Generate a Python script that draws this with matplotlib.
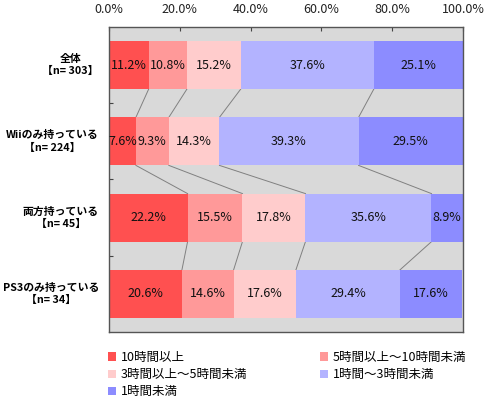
import numpy as np
import matplotlib
matplotlib.use("Agg")
import matplotlib.pyplot as plt
from matplotlib.patches import Patch

plt.rcParams['font.family'] = ['Noto Sans CJK JP', 'DejaVu Sans']

# データ
groups = ["全体\n【n= 303】", "Wiiのみ持っている\n【n= 224】",
          "両方持っている\n【n= 45】", "PS3のみ持っている\n【n= 34】"]
categories = ["10時間以上", "5時間以上～10時間未満", "3時間以上～5時間未満",
              "1時間～3時間未満", "1時間未満"]
v_10h = [11.2, 7.6, 22.2, 20.6]
v_5h = [10.8, 9.3, 15.5, 14.6]
v_3h = [15.2, 14.3, 17.8, 17.6]
v_1h = [37.6, 39.3, 35.6, 29.4]
v_lt1 = [25.1, 29.5, 8.9, 17.6]
xticks = [0, 20, 40, 60, 80, 100]

colors = ["#FF5050", "#FF9999", "#FFCCCC", "#B3B3FF", "#8C8CFF"]

vals = np.array([v_10h, v_5h, v_3h, v_1h, v_lt1])  # (cat, group)

fig = plt.figure(figsize=(4.93, 3.98), dpi=100)
ax = fig.add_axes([109/493, 1-332/398, 354/493, 305/398])
ax.set_facecolor("#D9D9D9")

bh = 0.63
y = np.arange(len(groups))
left = np.zeros(len(groups))
for k in range(len(categories)):
    ax.barh(y, vals[k], left=left, height=bh, color=colors[k], linewidth=0, zorder=2)
    for i in range(len(groups)):
        ax.text(left[i] + vals[k][i]/2, y[i], f"{vals[k][i]:.1f}%",
                ha="center", va="center", fontsize=9, color="#111111", zorder=3)
    left = left + vals[k]

# 区切り線
cum = np.cumsum(vals, axis=0)
for i in range(len(groups)-1):
    for k in range(len(categories)-1):
        ax.plot([cum[k][i], cum[k][i+1]], [y[i]+bh/2, y[i+1]-bh/2],
                color="#808080", lw=0.7, zorder=1)

ax.set_xlim(0, 100)
ax.set_ylim(len(groups)-0.5, -0.5)
ax.xaxis.tick_top()
ax.set_xticks(xticks)
ax.set_xticklabels([f"{t:.1f}%" for t in xticks], fontsize=9, color="#222222")
ax.tick_params(axis="x", direction="in", length=3, pad=8, color="#444444")
ax.set_yticks(np.arange(len(groups)-1) + 0.5)
ax.set_yticklabels([])
ax.tick_params(axis="y", direction="in", length=3, color="#444444")
for s in ax.spines.values():
    s.set_color("#555555")
    s.set_linewidth(1.0)

for i, g in enumerate(groups):
    ax.text(-10/354*100, y[i], g, ha="right", va="center", multialignment="center",
            fontsize=7.8, fontweight="bold", linespacing=1.3)

# 凡例
hs = [Patch(facecolor=c, edgecolor="none") for c in colors]
kw = dict(frameon=False, fontsize=9, handlelength=0.65, handleheight=0.65,
          handletextpad=0.35, labelspacing=0.33, borderpad=0, borderaxespad=0)
fig.legend([hs[0], hs[2], hs[4]], [categories[0], categories[2], categories[4]],
           loc="upper left", bbox_to_anchor=(108/493, 1-351/398), **kw)
fig.legend([hs[1], hs[3]], [categories[1], categories[3]],
           loc="upper left", bbox_to_anchor=(320/493, 1-351/398), **kw)

fig.savefig("out.png", dpi=100)
